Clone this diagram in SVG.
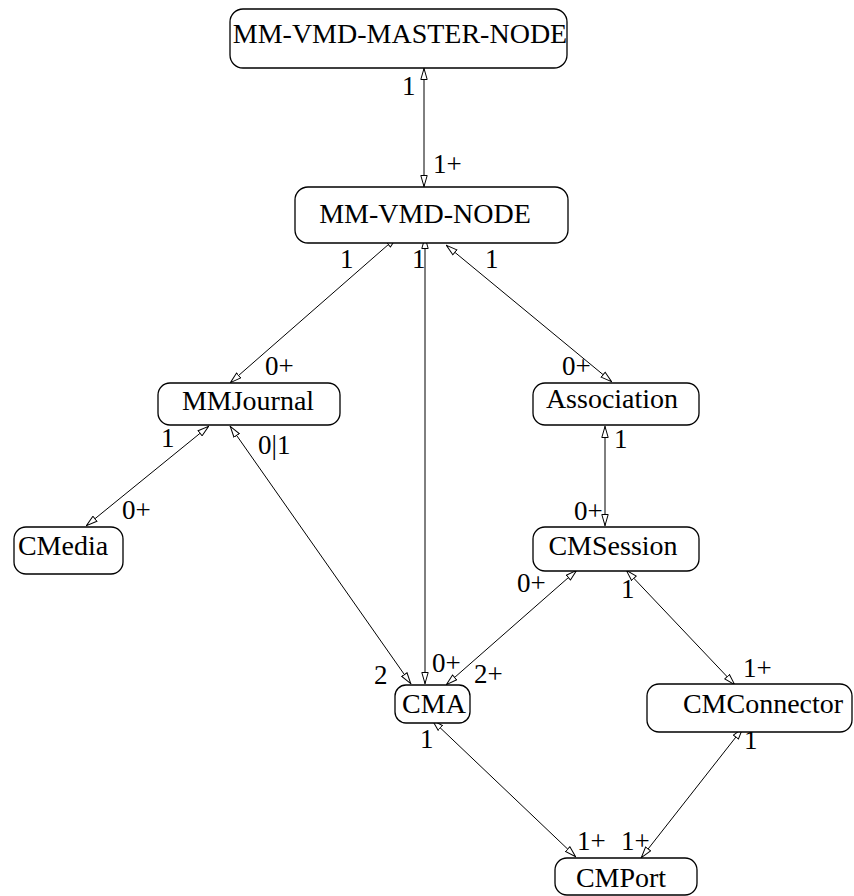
<svg xmlns="http://www.w3.org/2000/svg" width="854" height="896" viewBox="0 0 854 896">
<defs>
<style>
.box{fill:#fff;stroke:#000;stroke-width:1.3}
.nt{font-family:"Liberation Serif","Times New Roman",serif;font-size:28px;fill:#000;text-anchor:middle}
.lb{font-family:"Liberation Serif","Times New Roman",serif;font-size:27px;fill:#000}
.edge{fill:none;stroke:#000;stroke-width:1;marker-start:url(#ah);marker-end:url(#ah)}
</style>
<marker id="ah" viewBox="0 0 12 8" refX="12" refY="4" markerWidth="12" markerHeight="8" markerUnits="userSpaceOnUse" orient="auto-start-reverse">
<path d="M0.5,0.8 L11.5,4 L0.5,7.2 Z" fill="#fff" stroke="#000" stroke-width="1"/>
</marker>
</defs>
<rect width="854" height="896" fill="#fff"/>
<g id="connectors">
<line class="edge" x1="424" y1="68" x2="424" y2="187"/>
<line class="edge" x1="397" y1="237" x2="230" y2="383"/>
<line class="edge" x1="425" y1="237" x2="425" y2="684"/>
<line class="edge" x1="446" y1="245" x2="612" y2="382"/>
<line class="edge" x1="209" y1="426" x2="86" y2="526"/>
<line class="edge" x1="230" y1="426" x2="411" y2="684"/>
<line class="edge" x1="605" y1="426" x2="605" y2="526"/>
<line class="edge" x1="577" y1="570" x2="446" y2="685"/>
<line class="edge" x1="626" y1="570" x2="735" y2="685"/>
<line class="edge" x1="432" y1="720" x2="576" y2="857"/>
<line class="edge" x1="743" y1="728" x2="641" y2="858"/>
</g>
<g id="labels">
<text class="lb" x="402" y="95">1</text>
<text class="lb" x="433" y="173">1+</text>
<text class="lb" x="340" y="268">1</text>
<text class="lb" x="412" y="268">1</text>
<text class="lb" x="485" y="268">1</text>
<text class="lb" x="265" y="375">0+</text>
<text class="lb" x="562" y="375">0+</text>
<text class="lb" x="161" y="447">1</text>
<text class="lb" x="258" y="454">0|1</text>
<text class="lb" x="122" y="519">0+</text>
<text class="lb" x="614" y="448">1</text>
<text class="lb" x="574" y="520">0+</text>
<text class="lb" x="517" y="592">0+</text>
<text class="lb" x="621" y="598">1</text>
<text class="lb" x="432" y="672">0+</text>
<text class="lb" x="374" y="684">2</text>
<text class="lb" x="474" y="683">2+</text>
<text class="lb" x="743" y="677">1+</text>
<text class="lb" x="420" y="748">1</text>
<text class="lb" x="744" y="749">1</text>
<text class="lb" x="577" y="850">1+</text>
<text class="lb" x="621" y="850">1+</text>
</g>
<g id="master"><rect class="box" x="230" y="9" width="337" height="59" rx="13"/><text class="nt" x="400" y="43">MM-VMD-MASTER-NODE</text></g>
<g id="node"><rect class="box" x="295" y="187" width="273" height="56" rx="13"/><text class="nt" x="425" y="223">MM-VMD-NODE</text></g>
<g id="mmjournal"><rect class="box" x="158" y="383" width="182" height="42" rx="12"/><text class="nt" x="248" y="410">MMJournal</text></g>
<g id="association"><rect class="box" x="533" y="383" width="166" height="42" rx="12"/><text class="nt" x="612" y="408">Association</text></g>
<g id="cmedia"><rect class="box" x="14" y="527" width="109" height="47" rx="12"/><text class="nt" x="63" y="555">CMedia</text></g>
<g id="cmsession"><rect class="box" x="533" y="527" width="166" height="44" rx="12"/><text class="nt" x="613" y="555">CMSession</text></g>
<g id="cma"><rect class="box" x="395" y="685" width="75" height="38" rx="11"/><text class="nt" x="434" y="713">CMA</text></g>
<g id="cmconnector"><rect class="box" x="647" y="684" width="205" height="48" rx="12"/><text class="nt" x="763" y="713">CMConnector</text></g>
<g id="cmport"><rect class="box" x="555" y="858" width="142" height="37" rx="12"/><text class="nt" x="621" y="887">CMPort</text></g>
</svg>
